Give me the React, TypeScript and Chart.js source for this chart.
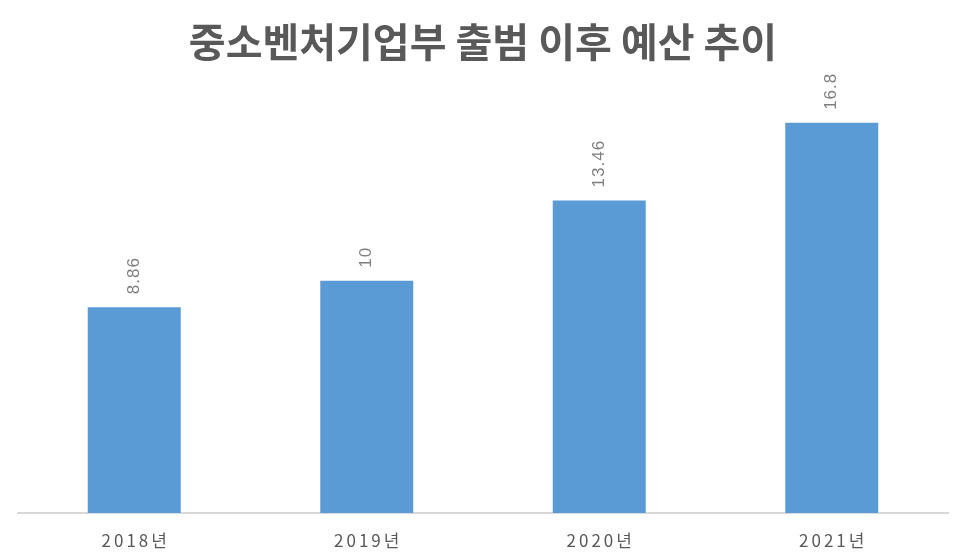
import React, { useEffect, useRef } from "react";
import Chart from "chart.js/auto";

const years = ["2018년", "2019년", "2020년", "2021년"];
const budget = [8.86, 10, 13.46, 16.8];
const titleText = "중소벤처기업부 출범 이후 예산 추이";

// value above each bar, turned on its side
const verticalLabels = {
  id: "verticalLabels",
  afterDatasetsDraw(chart: any) {
    const ctx = chart.ctx;
    const meta = chart.getDatasetMeta(0);
    ctx.save();
    ctx.fillStyle = "#7f7f7f";
    ctx.font = "17px 'Liberation Sans', 'Noto Sans', sans-serif";
    ctx.letterSpacing = "1px";
    ctx.textAlign = "left";
    ctx.textBaseline = "middle";
    meta.data.forEach((bar: any, i: number) => {
      ctx.save();
      ctx.translate(bar.x, bar.y - 13);
      ctx.rotate(-Math.PI / 2);
      ctx.fillText(String(budget[i]), 0, 0);
      ctx.restore();
    });
    ctx.restore();
  },
};

// category labels with spaced letters, placed by the x scale
const spacedTicks = {
  id: "spacedTicks",
  afterDraw(chart: any) {
    const ctx = chart.ctx;
    const x = chart.scales.x;
    ctx.save();
    ctx.fillStyle = "#595959";
    ctx.font = "17px 'Noto Sans CJK KR', sans-serif";
    ctx.letterSpacing = "3px";
    ctx.textAlign = "center";
    ctx.textBaseline = "middle";
    years.forEach((label, i) => {
      ctx.fillText(label, x.getPixelForTick(i) + 1.5, x.top + 28);
    });
    ctx.restore();
  },
};

export default function App() {
  const canvasRef = useRef<HTMLCanvasElement | null>(null);

  useEffect(() => {
    document.body.style.margin = "0";
    if (!canvasRef.current) return;
    const chart = new Chart(canvasRef.current, {
      type: "bar",
      data: {
        labels: years,
        datasets: [
          {
            data: budget,
            backgroundColor: "#5b9bd5",
            barPercentage: 0.4,
            categoryPercentage: 1,
          },
        ],
      },
      options: {
        animation: false,
        responsive: false,
        maintainAspectRatio: false,
        layout: { padding: { left: 18, right: 20, top: 0, bottom: 0 } },
        plugins: {
          legend: { display: false },
          tooltip: { enabled: false },
          title: {
            display: true,
            text: titleText,
            color: "#595959",
            font: { size: 40, weight: "bold", family: "'Noto Sans CJK KR', sans-serif" },
            padding: { top: 18, bottom: 29 },
          },
        },
        scales: {
          x: {
            grid: { display: false },
            border: { color: "#d9d9d9", width: 2 },
            ticks: { display: false },
            afterFit: (s: any) => {
              s.height = 45;
            },
          },
          y: {
            display: false,
            min: 0,
            max: 18,
          },
        },
      },
      plugins: [verticalLabels, spacedTicks],
    });
    return () => chart.destroy();
  }, []);

  return (
    <div style={{ width: 968, height: 558, background: "#fff" }}>
      <canvas ref={canvasRef} width={968} height={558} />
    </div>
  );
}
